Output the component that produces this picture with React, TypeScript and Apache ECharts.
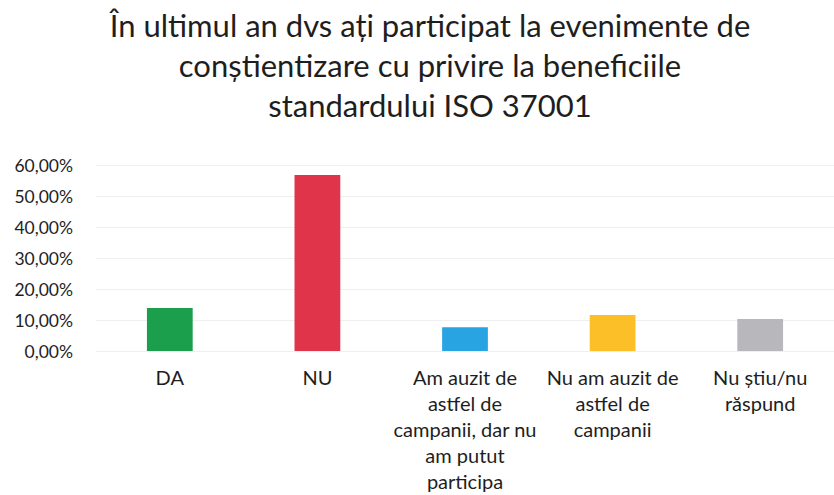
import React, { useEffect, useRef } from "react";
import * as echarts from "echarts";

const titleLines = [
  "În ultimul an dvs ați participat la evenimente de",
  "conștientizare cu privire la beneficiile",
  "standardului ISO 37001",
];
const categories = [
  "DA",
  "NU",
  "Am auzit de\nastfel de\ncampanii, dar nu\nam putut\nparticipa",
  "Nu am auzit de\nastfel de\ncampanii",
  "Nu știu/nu\nrăspund",
];
const values = [13.9, 56.8, 7.7, 11.6, 10.3];
const colors = ["#1c9f4c", "#e0344b", "#29a4e2", "#fcbf27", "#b7b7bc"];
const yMin = 0;
const yMax = 60;
const yInterval = 10;

export default function App() {
  const ref = useRef<HTMLDivElement>(null);
  useEffect(() => {
    if (!ref.current) return;
    const chart = echarts.init(ref.current, null, { renderer: "svg" });
    const font = "Lato, 'Open Sans', sans-serif";
    chart.setOption({
      animation: false,
      backgroundColor: "#ffffff",
      graphic: [
        {
          type: "text",
          x: 430,
          y: 5,
          style: {
            text: titleLines.join("\n"),
            textAlign: "center",
            fontSize: 31,
            lineHeight: 40,
            fontFamily: font,
            fill: "#1e1e1e",
          },
        },
      ],
      grid: { left: 96, right: -7, top: 165, bottom: 144, containLabel: false },
      xAxis: {
        type: "category",
        data: categories,
        axisLine: { show: false },
        axisTick: { show: false },
        axisLabel: {
          interval: 0,
          margin: 13,
          fontSize: 20,
          lineHeight: 26,
          fontFamily: font,
          color: "#1e1e1e",
          align: "center",
        },
      },
      yAxis: {
        type: "value",
        min: yMin,
        max: yMax,
        interval: yInterval,
        axisLine: { show: false },
        axisTick: { show: false },
        splitLine: { lineStyle: { color: "#efefef", width: 1 } },
        axisLabel: {
          margin: 23,
          fontSize: 17.5,
          fontFamily: font,
          color: "#1e1e1e",
          formatter: (v: number) => v.toFixed(2).replace(".", ",") + "%",
        },
      },
      series: [
        {
          type: "bar",
          barWidth: "31%",
          data: values.map((v, i) => ({ value: v, itemStyle: { color: colors[i] } })),
        },
      ],
    });
    return () => chart.dispose();
  }, []);
  return (
    <div
      ref={ref}
      style={{ position: "fixed", left: 0, top: 0, width: 834, height: 495 }}
    />
  );
}
